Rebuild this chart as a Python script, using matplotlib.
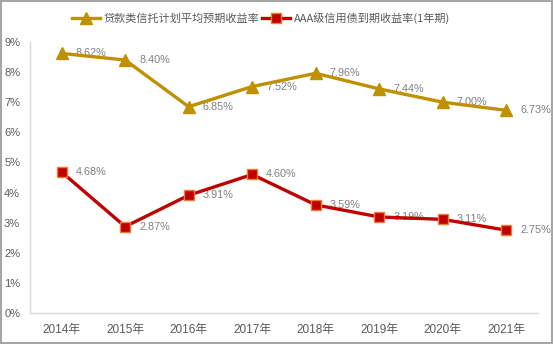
import matplotlib
matplotlib.use("Agg")
import matplotlib.pyplot as plt
from matplotlib.patches import Rectangle
from matplotlib.ticker import FuncFormatter

plt.rcParams["font.family"] = ["Liberation Sans", "Noto Sans CJK SC", "DejaVu Sans"]

years = ["2014年", "2015年", "2016年", "2017年", "2018年", "2019年", "2020年", "2021年"]
trust_yield = [8.62, 8.40, 6.85, 7.52, 7.96, 7.44, 7.00, 6.73]
aaa_yield = [4.68, 2.87, 3.91, 4.60, 3.59, 3.19, 3.11, 2.75]

GOLD = "#BF9000"
RED = "#C00000"
TEXT = "#595959"
LABEL = "#7F7F7F"

fig = plt.figure(figsize=(5.53, 3.44), dpi=100)
ax = fig.add_axes([0.054, 0.090, 0.919, 0.788])

x = range(len(years))
ax.plot(x, trust_yield, color=GOLD, lw=2.4, marker="^", ms=8,
        mfc=GOLD, mec=GOLD, label="贷款类信托计划平均预期收益率", zorder=3)
ax.plot(x, aaa_yield, color=RED, lw=2.4, marker="s", ms=7.5,
        mfc=RED, mec="#ED7D31", mew=1, label="AAA级信用债到期收益率(1年期)", zorder=3)

# value labels sit to the right of each point, under the lines
for series in (trust_yield, aaa_yield):
    for i, v in enumerate(series):
        ax.annotate(f"{v:.2f}%", (i, v), xytext=(10, 0), textcoords="offset points",
                    ha="left", va="center", fontsize=7.8, color=LABEL, zorder=2)

ax.set_xlim(-0.5, len(years) - 0.5)
ax.set_ylim(0, 9)
ax.set_yticks(range(0, 10))
ax.yaxis.set_major_formatter(FuncFormatter(lambda v, _: f"{v:.0f}%"))
ax.set_xticks(list(x))
ax.set_xticklabels(years)
ax.tick_params(axis="both", length=0, colors=TEXT, labelsize=8)
ax.tick_params(axis="x", pad=8, labelsize=8.5)
ax.tick_params(axis="y", pad=7)

for side in ("top", "right"):
    ax.spines[side].set_visible(False)
for side in ("left", "bottom"):
    ax.spines[side].set_color("#D9D9D9")
    ax.spines[side].set_linewidth(1)

ax.legend(loc="center", bbox_to_anchor=(0.472, 0.948), bbox_transform=fig.transFigure,
          ncol=2, frameon=False, labelcolor=TEXT, handlelength=2.5,
          columnspacing=0.3, handletextpad=0.3,
          prop={"family": ["Noto Sans CJK SC", "DejaVu Sans"], "size": 8})

fig.patches.append(Rectangle((0.001, 0.002), 0.997, 0.995, transform=fig.transFigure,
                             fill=False, edgecolor="#A6A6A6", lw=1.5))

fig.savefig("out.png", dpi=100)
